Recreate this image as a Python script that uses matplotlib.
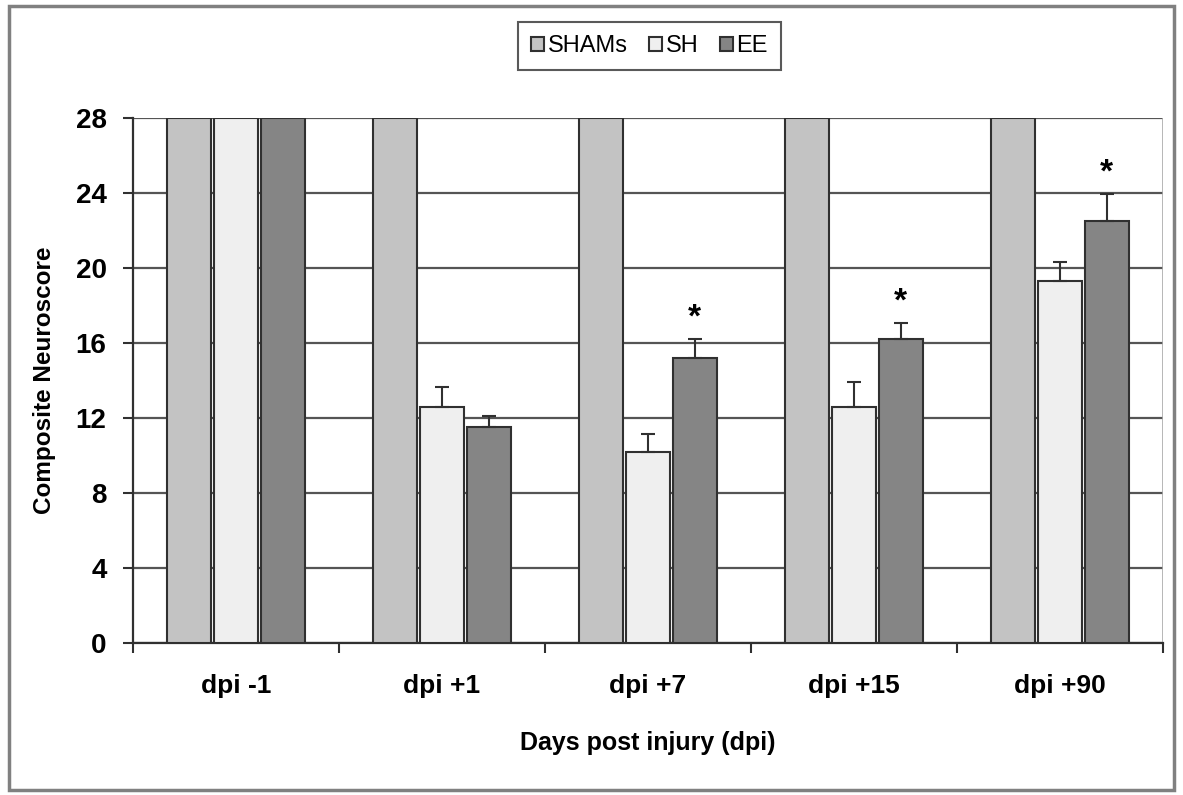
import matplotlib
matplotlib.use("Agg")
import matplotlib.pyplot as plt
from matplotlib.patches import Rectangle
import numpy as np

plt.rcParams['font.family'] = ['Liberation Sans', 'DejaVu Sans']

categories = ['dpi -1', 'dpi +1', 'dpi +7', 'dpi +15', 'dpi +90']
series = ['SHAMs', 'SH', 'EE']
shams = [28, 28, 28, 28, 28]
sh = [28, 12.6, 10.2, 12.6, 19.3]
ee = [28, 11.5, 15.2, 16.2, 22.5]
sh_err = [0, 1.05, 0.95, 1.3, 1.0]
ee_err = [0, 0.6, 1.0, 0.85, 1.45]
star_ee = [False, False, True, True, True]

colors = ['#c3c3c3', '#efefef', '#858585']

fig = plt.figure(figsize=(11.83, 7.95), dpi=100)
ax = fig.add_axes([0.1124, 0.1912, 0.8706, 0.6604])

x = np.arange(len(categories))
w = 0.213
step = 0.228
vals = [shams, sh, ee]
errs = [None, sh_err, ee_err]
bars = []
for i, (name, v) in enumerate(zip(series, vals)):
    b = ax.bar(x + (i - 1) * step, v, w, color=colors[i], edgecolor='#303030',
               linewidth=1.5, label=name, zorder=3)
    bars.append(b)
    if errs[i] is not None:
        e = np.array(errs[i])
        m = e > 0
        ax.errorbar((x + (i - 1) * step)[m], np.array(v)[m],
                    yerr=[np.zeros(m.sum()), e[m]], fmt='none', ecolor='#303030',
                    elinewidth=1.5, capsize=5, capthick=1.5, zorder=4)

for xi, v, e, s in zip(x, ee, ee_err, star_ee):
    if s:
        ax.text(xi + step, v + e + 0.3, '*', ha='center', va='bottom',
                fontsize=24, fontweight='bold', zorder=5)

ax.set_xlim(-0.5, 4.5)
ax.set_ylim(0, 28)
ax.set_yticks(np.arange(0, 29, 4))
ax.yaxis.grid(True, color='#555555', linewidth=1.6, zorder=0)
ax.set_axisbelow(True)

ax.set_xticks(x)
ax.set_xticklabels(categories, fontsize=19, fontweight='bold')
ax.tick_params(axis='x', length=0, pad=22)
ax.set_xticks(np.arange(-0.5, 5, 1), minor=True)
ax.tick_params(axis='x', which='minor', length=7, width=1.5, color='#303030', direction='out')
ax.tick_params(axis='y', labelsize=20, length=7, width=1.5, color='#303030', direction='out', pad=12)
for lbl in ax.get_yticklabels():
    lbl.set_fontweight('bold')

for side in ['top', 'right']:
    ax.spines[side].set_visible(False)
ax.spines['left'].set_linewidth(1.6)
ax.spines['left'].set_color('#303030')
ax.spines['bottom'].set_linewidth(1.6)
ax.spines['bottom'].set_color('#303030')
# right border of plot area (light)
ax.axvline(4.5, color='#aaaaaa', linewidth=1.2, zorder=1)

ax.set_ylabel('Composite Neuroscore', fontsize=17.5, fontweight='bold', labelpad=14)
ax.set_xlabel('Days post injury (dpi)', fontsize=18, fontweight='bold', labelpad=24)

leg = fig.legend(handles=bars, labels=series, loc='center', bbox_to_anchor=(0.549, 0.942),
                 ncol=3, fontsize=17, frameon=True, fancybox=False, edgecolor='#303030',
                 handlelength=0.55, handleheight=0.55, handletextpad=0.15, columnspacing=0.9,
                 borderpad=0.55)
leg.get_frame().set_linewidth(1.5)

fig.patches.append(Rectangle((0.008, 0.006), 0.984, 0.986, transform=fig.transFigure,
                             fill=False, edgecolor='#808080', linewidth=2.5))

fig.savefig('out.png', dpi=100)
